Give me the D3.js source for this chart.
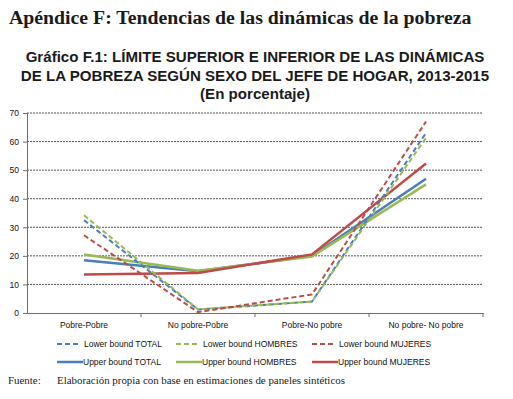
<!DOCTYPE html>
<html>
<head>
<meta charset="utf-8">
<script src="https://cdn.jsdelivr.net/npm/d3@7"></script>
<style>
  body { margin: 0; background: #fff; }
  svg { display: block; }
</style>
</head>
<body>
<svg id="chart" width="513" height="399"></svg>
<script>
// categories on x
var categories = ["Pobre-Pobre", "No pobre-Pobre", "Pobre-No pobre", "No pobre- No pobre"];
var yTicks = [0, 10, 20, 30, 40, 50, 60, 70];

// series values (%)
var lowerTotal    = [32.5, 1.2, 4.0, 63.0];
var lowerHombres  = [34.2, 1.3, 4.0, 61.3];
var lowerMujeres  = [27.2, 0.3, 6.5, 67.0];
var upperTotal    = [18.5, 14.6, 20.0, 47.0];
var upperHombres  = [20.5, 14.8, 19.8, 45.0];
var upperMujeres  = [13.5, 14.0, 20.5, 52.3];

var seriesNames = ["Lower bound TOTAL", "Lower bound HOMBRES", "Lower bound MUJERES",
                   "Upper bound TOTAL", "Upper bound HOMBRES", "Upper bound MUJERES"];

var blue = "#4a7ebb", green = "#98b954", red = "#be4b48";

var series = [
    {name: seriesNames[0], values: lowerTotal,   color: blue,  dashed: true},
    {name: seriesNames[1], values: lowerHombres, color: green, dashed: true},
    {name: seriesNames[2], values: lowerMujeres, color: red,   dashed: true},
    {name: seriesNames[3], values: upperTotal,   color: blue,  dashed: false},
    {name: seriesNames[4], values: upperHombres, color: green, dashed: false},
    {name: seriesNames[5], values: upperMujeres, color: red,   dashed: false}
];

var svg = d3.select("#chart"),
    margin = {top: 113, right: 30, bottom: 86, left: 27},
    width = +svg.attr("width") - margin.left - margin.right,
    height = +svg.attr("height") - margin.top - margin.bottom;

// titles
svg.append("text")
    .attr("x", 9).attr("y", 24)
    .style("font-family", "'Liberation Serif', 'Times New Roman', serif")
    .style("font-weight", "bold").style("font-size", "19.8px")
    .attr("fill", "#1a1a1a")
    .text("Apéndice F: Tendencias de las dinámicas de la pobreza");

var subtitles = ["Gráfico F.1: LÍMITE SUPERIOR E INFERIOR DE LAS DINÁMICAS",
                 "DE LA POBREZA SEGÚN SEXO DEL JEFE DE HOGAR, 2013-2015",
                 "(En porcentaje)"];
svg.selectAll(".subtitle")
    .data(subtitles)
    .enter().append("text")
    .attr("class", "subtitle")
    .attr("x", 255)
    .attr("y", function (d, i) { return 62 + i * 18.5; })
    .attr("text-anchor", "middle")
    .style("font-family", "'Liberation Sans', Arial, sans-serif")
    .style("font-weight", "bold").style("font-size", "15.1px")
    .attr("fill", "#1a1a1a")
    .text(function (d) { return d; });

var g = svg.append("g")
    .attr("transform", "translate(" + margin.left + "," + margin.top + ")");

var x = d3.scaleBand().domain(categories).range([0, width]);
var y = d3.scaleLinear().domain([0, 70]).range([height, 0]);

// gridlines
g.selectAll(".grid")
    .data(yTicks.slice(1))
    .enter().append("line")
    .attr("class", "grid")
    .attr("x1", 0).attr("x2", width)
    .attr("y1", function (d) { return y(d); })
    .attr("y2", function (d) { return y(d); })
    .attr("stroke", "#555")
    .attr("stroke-dasharray", "2,1")
    .attr("stroke-width", 1);

// y axis
var yAxis = g.append("g")
    .call(d3.axisLeft(y).tickValues(yTicks).tickSize(4).tickPadding(4));
yAxis.select(".domain").attr("stroke", "#6f6f6f");
yAxis.selectAll(".tick line").attr("stroke", "#6f6f6f");
yAxis.selectAll("text")
    .style("font-family", "'Liberation Sans', Arial, sans-serif")
    .style("font-size", "8.5px").attr("fill", "#111");

// x axis, ticks at band boundaries
var xAxis = g.append("g")
    .attr("transform", "translate(0," + height + ")")
    .call(d3.axisBottom(x).tickSize(0).tickPadding(9));
xAxis.select(".domain").attr("stroke", "#6f6f6f");
xAxis.selectAll("text")
    .style("font-family", "'Liberation Sans', Arial, sans-serif")
    .style("font-size", "8.5px").attr("fill", "#111");
g.selectAll(".xtick")
    .data(categories)
    .enter().append("line")
    .attr("class", "xtick")
    .attr("x1", function (d) { return x(d) + x.bandwidth(); })
    .attr("x2", function (d) { return x(d) + x.bandwidth(); })
    .attr("y1", height).attr("y2", height + 4)
    .attr("stroke", "#6f6f6f");

// lines
var line = d3.line()
    .x(function (d, i) { return x(categories[i]) + x.bandwidth() / 2; })
    .y(function (d) { return y(d); });

// solid ones first, dashed on top
var drawOrder = series.slice(3).concat(series.slice(0, 3));
g.selectAll(".series")
    .data(drawOrder)
    .enter().append("path")
    .attr("class", "series")
    .attr("fill", "none")
    .attr("stroke", function (d) { return d.color; })
    .attr("stroke-width", function (d) { return d.dashed ? 2 : 2.5; })
    .attr("stroke-dasharray", function (d) { return d.dashed ? "5,3" : null; })
    .attr("d", function (d) { return line(d.values); });

// legend
var legendX = [57, 176, 312];
var legend = svg.selectAll(".legend")
    .data(series)
    .enter().append("g")
    .attr("class", "legend")
    .attr("transform", function (d, i) {
        return "translate(" + legendX[i % 3] + "," + (344 + Math.floor(i / 3) * 18) + ")";
    });
legend.append("line")
    .attr("x1", 0)
    .attr("x2", function (d) { return d.dashed ? 23 : 26; })
    .attr("y1", 0).attr("y2", 0)
    .attr("stroke", function (d) { return d.color; })
    .attr("stroke-width", function (d) { return d.dashed ? 2 : 2.5; })
    .attr("stroke-dasharray", function (d) { return d.dashed ? "5,3" : null; });
legend.append("text")
    .attr("x", function (d) { return d.dashed ? 27 : 26; })
    .attr("y", 3)
    .style("font-family", "'Liberation Sans', Arial, sans-serif")
    .style("font-size", "8.5px").attr("fill", "#111")
    .text(function (d) { return d.name; });

// source note
svg.append("text")
    .attr("x", 8).attr("y", 384)
    .style("font-family", "'Liberation Serif', 'Times New Roman', serif")
    .style("font-size", "10.9px").attr("fill", "#1a1a1a")
    .text("Fuente:");
svg.append("text")
    .attr("x", 57).attr("y", 384)
    .style("font-family", "'Liberation Serif', 'Times New Roman', serif")
    .style("font-size", "10.9px").attr("fill", "#1a1a1a")
    .text("Elaboración propia con base en estimaciones de paneles sintéticos");
</script>
</body>
</html>
